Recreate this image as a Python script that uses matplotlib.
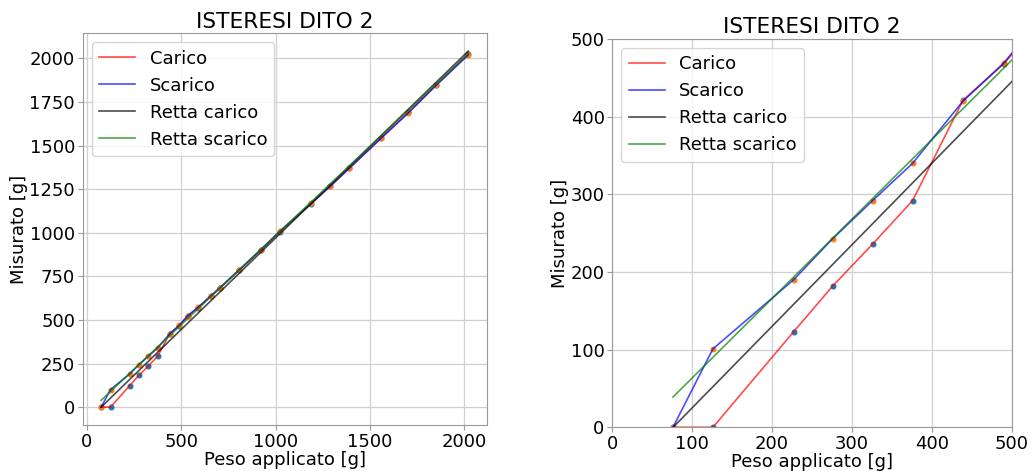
import matplotlib.pyplot as plt
import numpy as np

# pesi applicati e letture del dito 2
peso = np.array([76, 126, 227, 276, 326, 376, 439, 490, 535, 590, 657, 706,
                 806, 922, 1022, 1188, 1291, 1390, 1560, 1703, 1851, 2021])
carico = np.array([0, 0, 123, 182, 236, 292, 421, 468, 522, 570, 636, 683,
                   784, 900, 1005, 1166, 1268, 1369, 1545, 1690, 1848, 2025])
scarico = np.array([0, 101, 190, 243, 292, 340, 420, 469, 525, 573, 639, 686,
                    786, 903, 1008, 1168, 1269, 1370, 1543, 1687, 1846, 2020])

# coefficienti delle rette (m, q)
retta_carico = (1.05, -80.0)
retta_scarico = (1.023, -38.8)


def disegna(ax):
    ax.scatter(peso, carico, s=11, color='C0', zorder=1)
    ax.scatter(peso, scarico, s=11, color='C1', zorder=1)
    ax.plot(peso, carico, 'r-', alpha=0.7, lw=1.2, label='Carico')
    ax.plot(peso, scarico, 'b-', alpha=0.7, lw=1.2, label='Scarico')
    ax.plot(peso, retta_carico[0] * peso + retta_carico[1], 'k-', alpha=0.7,
            lw=1.2, label='Retta carico')
    ax.plot(peso, retta_scarico[0] * peso + retta_scarico[1], 'g-', alpha=0.7,
            lw=1.2, label='Retta scarico')
    ax.set_title('ISTERESI DITO 2', fontsize=15.7, pad=4)
    ax.set_xlabel('Peso applicato [g]', fontsize=13, labelpad=0)
    ax.set_ylabel('Misurato [g]', fontsize=13, labelpad=1)
    ax.tick_params(labelsize=13, color='#999999', pad=2)
    ax.grid(color='#d0d0d0', lw=0.9)
    ax.set_axisbelow(True)
    for s in ax.spines.values():
        s.set_color('#999999')
    ax.legend(loc='upper left', fontsize=13)


fig = plt.figure(figsize=(10.33, 4.71), dpi=100)
ax1 = fig.add_axes([0.0801, 0.0977, 0.391, 0.8316])
ax2 = fig.add_axes([0.5927, 0.0928, 0.3867, 0.8244])

disegna(ax1)
disegna(ax2)
ax2.set_xlim(0, 500)
ax2.set_ylim(0, 500)

fig.savefig('out.png', dpi=100)
